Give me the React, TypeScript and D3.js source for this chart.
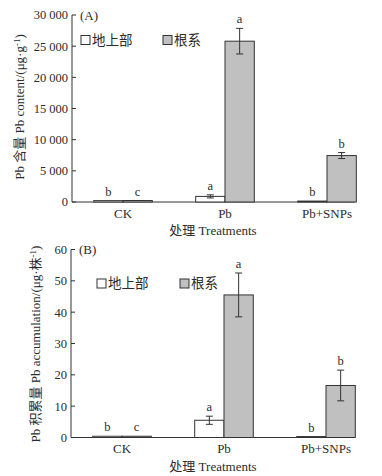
import React from 'react';
import * as d3 from 'd3';

const categories = ['CK', 'Pb', 'Pb+SNPs'];
const seriesNames = ['地上部', '根系'];

const contentShoot = [220, 900, 150];
const contentShootErr = [0, 250, 0];
const contentRoot = [240, 25800, 7450];
const contentRootErr = [0, 2050, 480];
const contentShootLetters = ['b', 'a', 'b'];
const contentRootLetters = ['c', 'a', 'b'];

const accShoot = [0.4, 5.5, 0.3];
const accShootErr = [0, 1.3, 0];
const accRoot = [0.4, 45.5, 16.6];
const accRootErr = [0, 7.0, 4.9];
const accShootLetters = ['b', 'a', 'b'];
const accRootLetters = ['c', 'a', 'b'];

const ticksA = [0, 5000, 10000, 15000, 20000, 25000, 30000];
const ticksB = [0, 10, 20, 30, 40, 50, 60];

const FONT = '"Liberation Serif", "Times New Roman", "Noto Sans CJK SC", serif';
const TXT = '#2b2b2b';
const FILL = ['#ffffff', '#c0c0c0'];

type PanelProps = {
  label: string;
  shoot: number[]; shootErr: number[]; root: number[]; rootErr: number[];
  shootLetters: string[]; rootLetters: string[];
  domainMax: number; ticks: number[]; yTop: number; yBottom: number; axisX: number; axisEnd: number;
  fmt: (v: number) => string;
  legendX: number; legendY: number; legendX2: number;
  yTitle: React.ReactNode; yTitleX: number; yTitleY: number;
  xLabelY: number; xTitleY: number;
};

function Panel(p: PanelProps) {
  const y = d3.scaleLinear().domain([0, p.domainMax]).range([p.yBottom, p.yTop]);
  const x = d3.scaleBand().domain(categories).range([p.axisX, p.axisX + 306]).paddingInner(0).paddingOuter(0);
  const bw = 29.3;
  const series = [
    { vals: p.shoot, errs: p.shootErr, letters: p.shootLetters, off: -bw, fill: FILL[0] },
    { vals: p.root, errs: p.rootErr, letters: p.rootLetters, off: 0, fill: FILL[1] },
  ];
  return (
    <g fontFamily={FONT} fill={TXT}>
      <line x1={p.axisX} x2={p.axisX} y1={p.yTop} y2={p.yBottom} stroke="#333" strokeWidth={1} />
      <line x1={p.axisX} x2={p.axisEnd} y1={p.yBottom} y2={p.yBottom} stroke="#333" strokeWidth={1} />
      {p.ticks.map((t) => (
        <g key={t}>
          <line x1={p.axisX} x2={p.axisX + 4} y1={y(t)} y2={y(t)} stroke="#333" strokeWidth={1} />
          <text x={p.axisX - 4} y={y(t)} dy="0.35em" textAnchor="end" fontSize={12.5}>{p.fmt(t)}</text>
        </g>
      ))}
      <text x={p.axisX + 8} y={p.yTop} dy="0.35em" fontSize={13}>{p.label}</text>
      {series.map((s, si) => categories.map((c, i) => {
        const cx = (x(c) as number) + x.bandwidth() / 2;
        const x0 = cx + s.off;
        const top = y(s.vals[i]);
        const hasErr = s.errs[i] > 0;
        const eTop = y(s.vals[i] + s.errs[i]);
        const eBot = y(s.vals[i] - s.errs[i]);
        const mid = x0 + bw / 2;
        const labelTop = hasErr ? eTop : top;
        return (
          <g key={`${si}-${c}`}>
            <rect x={x0} y={top} width={bw} height={Math.max(p.yBottom - top, 0.5)} fill={s.fill} stroke="#333" strokeWidth={1} />
            {hasErr && (
              <g stroke="#333" strokeWidth={1}>
                <line x1={mid} x2={mid} y1={eTop} y2={eBot} />
                <line x1={mid - 3.5} x2={mid + 3.5} y1={eTop} y2={eTop} />
                <line x1={mid - 3.5} x2={mid + 3.5} y1={eBot} y2={eBot} />
              </g>
            )}
            <text x={mid} y={labelTop - 5} textAnchor="middle" fontSize={12.5}>{s.letters[i]}</text>
          </g>
        );
      }))}
      {categories.map((c) => (
        <text key={c} x={(x(c) as number) + x.bandwidth() / 2} y={p.xLabelY} textAnchor="middle" fontSize={13}>{c}</text>
      ))}
      <text x={213} y={p.xTitleY} textAnchor="middle" fontSize={13}>处理 Treatments</text>
      {[p.legendX, p.legendX2].map((lx, i) => (
        <g key={i}>
          <rect x={lx} y={p.legendY - 4.5} width={9} height={9} fill={FILL[i]} stroke="#333" strokeWidth={1} />
          <text x={lx + 11} y={p.legendY} dy="0.36em" fontSize={13.5}>{seriesNames[i]}</text>
        </g>
      ))}
      <text transform={`translate(${p.yTitleX},${p.yTitleY}) rotate(-90)`} textAnchor="middle" dy="0.35em" fontSize={13}>{p.yTitle}</text>
    </g>
  );
}

export default function App() {
  const fmtA = (v: number) => d3.format(',')(v).replace(',', ' ');
  const fmtB = (v: number) => String(v);
  return (
    <svg width={382} height={476} style={{ position: 'absolute', left: 0, top: 0, background: '#fff' }}>
      <rect width={382} height={476} fill="#fff" />
      <Panel
        label="(A)" shoot={contentShoot} shootErr={contentShootErr} root={contentRoot} rootErr={contentRootErr}
        shootLetters={contentShootLetters} rootLetters={contentRootLetters}
        domainMax={30000} ticks={ticksA} yTop={15} yBottom={202} axisX={72} axisEnd={355} fmt={fmtA}
        legendX={81} legendY={40} legendX2={163}
        yTitle={<>Pb 含量 Pb content/(μg·g<tspan dy="-4" fontSize={9}>-1</tspan><tspan dy="4">)</tspan></>}
        yTitleX={19} yTitleY={107} xLabelY={218} xTitleY={235}
      />
      <Panel
        label="(B)" shoot={accShoot} shootErr={accShootErr} root={accRoot} rootErr={accRootErr}
        shootLetters={accShootLetters} rootLetters={accRootLetters}
        domainMax={60} ticks={ticksB} yTop={249.5} yBottom={437.5} axisX={71} axisEnd={354} fmt={fmtB}
        legendX={97} legendY={283.5} legendX2={180}
        yTitle={<>Pb 积累量 Pb accumulation/(μg·株<tspan dy="-4" fontSize={9}>-1</tspan><tspan dy="4">)</tspan></>}
        yTitleX={35} yTitleY={344} xLabelY={453} xTitleY={471}
      />
    </svg>
  );
}
